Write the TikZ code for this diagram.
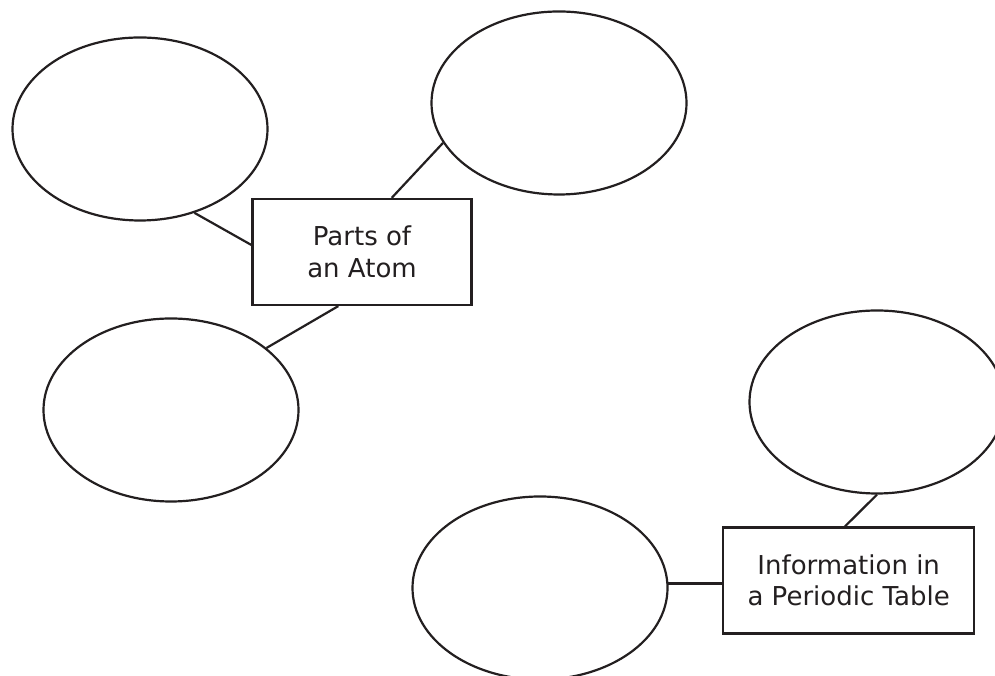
\documentclass[tikz,border=0pt]{standalone}
\usepackage{fontspec}
\setmainfont{DejaVu Sans}
\usetikzlibrary{shapes.geometric,calc}
\definecolor{ink}{HTML}{231F20}
\begin{document}
\begin{tikzpicture}[x=1pt,y=1pt,
  bubble/.style={draw=ink,line width=2.2pt,ellipse,inner sep=0pt,minimum width=255pt,minimum height=183pt},
  topic/.style={draw=ink,line width=2.2pt,rectangle,inner sep=0pt,align=center,text=ink,
    font=\fontsize{26}{31.5}\selectfont},
  link/.style={draw=ink,line width=2.2pt}]
\useasboundingbox (0,0) rectangle (995,676);
\fill[white] (0,0) rectangle (995,676);
% ellipses
\node[bubble] (e1) at (140,547) {};
\node[bubble] (e2) at (559,573) {};
\node[bubble] (e3) at (171,266) {};
\node[bubble] (e4) at (877,274) {};
\node[bubble] (e5) at (540,88) {};
% boxes
\node[topic,minimum width=219pt,minimum height=106pt] (b1) at (362,424) {Parts of\\an Atom};
\node[topic,minimum width=251pt,minimum height=106pt] (b2) at (848.7,95.5) {Information in\\a Periodic Table};
% connectors
\draw[link] (e1.-57) -- ($(b1.west)+(0,7)$);
\draw[link] (e2.-161.5) -- ($(b1.north)+(29.7,0)$);
\draw[link] (e3.33.3) -- ($(b1.south)+(-23.7,0)$);
\draw[link] (e4.south) -- ($(b2.north)+(-3.7,0)$);
\draw[link] (e5.2) -- (e5.2 -| b2.west);
\end{tikzpicture}
\end{document}
